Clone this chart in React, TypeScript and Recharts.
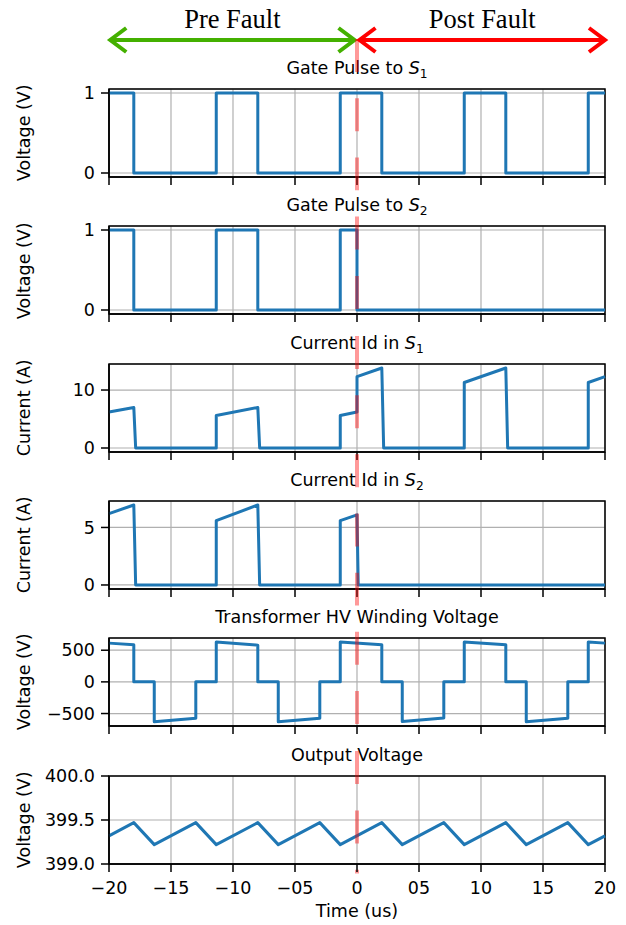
import React from "react";
import {
  CartesianGrid,
  Line,
  LineChart,
  ReferenceArea,
  ReferenceLine,
  XAxis,
  YAxis,
} from "recharts";

// shared time axis (us)
const xTicks = [-20, -15, -10, -5, 0, 5, 10, 15, 20];
const xTickLabels = ["−20", "−15", "−10", "−05", "0", "05", "10", "15", "20"];

const gateS1Time = [-20, -18, -18, -11.35, -11.35, -8, -8, -1.35, -1.35, 2, 2, 8.65, 8.65, 12, 12, 18.65, 18.65, 20];
const gateS1Value = [1, 1, 0, 0, 1, 1, 0, 0, 1, 1, 0, 0, 1, 1, 0, 0, 1, 1];

const gateS2Time = [-20, -18, -18, -11.35, -11.35, -8, -8, -1.35, -1.35, 0, 0, 20];
const gateS2Value = [1, 1, 0, 0, 1, 1, 0, 0, 1, 1, 0, 0];

const currentS1Time = [-20, -18, -17.85, -11.35, -11.35, -8, -7.85, -1.35, -1.35, 0, 0, 2, 2.15, 8.65, 8.65, 12, 12.15, 18.65, 18.65, 20];
const currentS1Value = [6.2, 7.0, 0, 0, 5.6, 7.0, 0, 0, 5.6, 6.2, 12.3, 13.8, 0, 0, 11.3, 13.8, 0, 0, 11.3, 12.3];

const currentS2Time = [-20, -18, -17.85, -11.35, -11.35, -8, -7.85, -1.35, -1.35, 0, 0.1, 20];
const currentS2Value = [6.2, 6.95, 0, 0, 5.6, 6.95, 0, 0, 5.6, 6.1, 0, 0];

const hvTime = [-20, -18, -18, -16.35, -16.35, -13, -13, -11.35, -11.35, -8, -8, -6.35, -6.35, -3, -3, -1.35, -1.35, 2, 2, 3.65, 3.65, 7, 7, 8.65, 8.65, 12, 12, 13.65, 13.65, 17, 17, 18.65, 18.65, 20];
const hvValue = [612, 585, 0, 0, -630, -575, 0, 0, 630, 580, 0, 0, -630, -575, 0, 0, 630, 585, 0, 0, -625, -570, 0, 0, 630, 585, 0, 0, -630, -575, 0, 0, 630, 612];

const outTime = [-20, -18, -16.35, -13, -11.35, -8, -6.35, -3, -1.35, 2, 3.65, 7, 8.65, 12, 13.65, 17, 18.65, 20];
const outValue = [399.32, 399.47, 399.22, 399.47, 399.22, 399.47, 399.22, 399.47, 399.22, 399.47, 399.22, 399.47, 399.22, 399.47, 399.22, 399.47, 399.22, 399.32];

const pulseTicks = [0, 1];
const pulseTickLabels = ["0", "1"];
const currentS1Ticks = [0, 10];
const currentS1TickLabels = ["0", "10"];
const currentS2Ticks = [0, 5];
const currentS2TickLabels = ["0", "5"];
const hvTicks = [-500, 0, 500];
const hvTickLabels = ["−500", "0", "500"];
const outTicks = [399, 399.5, 400];
const outTickLabels = ["399.0", "399.5", "400.0"];

const FONT = "'DejaVu Sans', sans-serif";
const FS = 17.5;
const BLUE = "#1f77b4";
const W = 626;
const PLOT_LEFT = 109;
const PLOT_RIGHT = 605;
const FRAME_TOP0 = 89;
const PITCH = 137.3;
const FRAME_H = 88;
const DASH_START = 39;
const DASH_END = 873;
const DASH_PERIOD = 59.3;

const Sub = ({ children }: { children: React.ReactNode }) => (
  <span style={{ fontSize: FS * 0.7, verticalAlign: -4 }}>{children}</span>
);

type PanelCfg = {
  title: React.ReactNode;
  ylabel: string;
  time: number[];
  value: number[];
  domain: [number, number];
  ticks: number[];
  tickLabels: string[];
};

const panels: PanelCfg[] = [
  {
    title: <>Gate Pulse to <i>S</i><Sub>1</Sub></>,
    ylabel: "Voltage (V)",
    time: gateS1Time,
    value: gateS1Value,
    domain: [-0.05, 1.05],
    ticks: pulseTicks,
    tickLabels: pulseTickLabels,
  },
  {
    title: <>Gate Pulse to <i>S</i><Sub>2</Sub></>,
    ylabel: "Voltage (V)",
    time: gateS2Time,
    value: gateS2Value,
    domain: [-0.05, 1.05],
    ticks: pulseTicks,
    tickLabels: pulseTickLabels,
  },
  {
    title: <>Current Id in <i>S</i><Sub>1</Sub></>,
    ylabel: "Current (A)",
    time: currentS1Time,
    value: currentS1Value,
    domain: [-0.69, 14.49],
    ticks: currentS1Ticks,
    tickLabels: currentS1TickLabels,
  },
  {
    title: <>Current Id in <i>S</i><Sub>2</Sub></>,
    ylabel: "Current (A)",
    time: currentS2Time,
    value: currentS2Value,
    domain: [-0.35, 7.3],
    ticks: currentS2Ticks,
    tickLabels: currentS2TickLabels,
  },
  {
    title: "Transformer HV Winding Voltage",
    ylabel: "Voltage (V)",
    time: hvTime,
    value: hvValue,
    domain: [-697, 693],
    ticks: hvTicks,
    tickLabels: hvTickLabels,
  },
  {
    title: "Output Voltage",
    ylabel: "Voltage (V)",
    time: outTime,
    value: outValue,
    domain: [399, 400],
    ticks: outTicks,
    tickLabels: outTickLabels,
  },
];

// double headed arrow drawn above the first panel
const arrowShape = (color: string, text: string) => (p: any) => {
  const y = 40;
  const xa = p.x1;
  const xb = p.x2;
  const hl = 16;
  const hw = 12;
  return (
    <g>
      <line x1={xa} x2={xb} y1={y} y2={y} stroke={color} strokeWidth={4} />
      <polyline points={`${xa + hl},${y - hw} ${xa},${y} ${xa + hl},${y + hw}`} fill="none" stroke={color} strokeWidth={4} />
      <polyline points={`${xb - hl},${y - hw} ${xb},${y} ${xb - hl},${y + hw}`} fill="none" stroke={color} strokeWidth={4} />
      <text x={(xa + xb) / 2} y={28} textAnchor="middle" fontFamily="'Liberation Serif', serif" fontSize={26.5} fill="#000">
        {text}
      </text>
    </g>
  );
};

function Panel({ cfg, index }: { cfg: PanelCfg; index: number }) {
  const last = index === panels.length - 1;
  const frameTop = FRAME_TOP0 + index * PITCH;
  const svgTop = index === 0 ? 0 : frameTop - 50;
  const mt = frameTop - svgTop;
  const axisH = last ? 40 : 12;
  const height = mt + FRAME_H + axisH;
  const segStart = index === 0 ? DASH_START : svgTop;
  const segEnd = last ? DASH_END : FRAME_TOP0 + (index + 1) * PITCH - 50;
  const data = cfg.time.map((t, k) => ({ t, v: cfg.value[k] }));

  const faultShape = (p: any) => (
    <line
      x1={p.x1}
      x2={p.x1}
      y1={segStart - svgTop}
      y2={segEnd - svgTop}
      stroke="#ff0000"
      strokeOpacity={0.4}
      strokeWidth={4}
      strokeDasharray="33 26.3"
      strokeDashoffset={(segStart - DASH_START) % DASH_PERIOD}
    />
  );

  return (
    <div style={{ position: "absolute", left: 0, top: svgTop }}>
      <LineChart width={W} height={height} data={data} margin={{ top: mt, right: W - PLOT_RIGHT, bottom: 0, left: 0 }}>
        <CartesianGrid stroke="#b0b0b0" strokeWidth={1.2} />
        <XAxis
          dataKey="t"
          type="number"
          domain={[-20, 20]}
          ticks={xTicks}
          interval={0}
          height={axisH}
          tick={{ fontSize: FS, fill: "#000", fontFamily: FONT }}
          tickFormatter={(v: number) => (last ? xTickLabels[xTicks.indexOf(v)] : "")}
          tickSize={8}
          tickMargin={10}
          tickLine={{ stroke: "#000", strokeWidth: 1.5 }}
          axisLine={{ stroke: "#000", strokeWidth: 1.5 }}
        />
        <YAxis
          type="number"
          domain={cfg.domain}
          ticks={cfg.ticks}
          interval={0}
          width={PLOT_LEFT}
          tick={{ fontSize: FS, fill: "#000", fontFamily: FONT }}
          tickFormatter={(v: number) => cfg.tickLabels[cfg.ticks.indexOf(v)]}
          tickSize={8}
          tickMargin={6}
          tickLine={{ stroke: "#000", strokeWidth: 1.5 }}
          axisLine={{ stroke: "#000", strokeWidth: 1.5 }}
        />
        <Line
          dataKey="v"
          type="linear"
          stroke={BLUE}
          strokeWidth={3}
          strokeLinejoin="round"
          dot={false}
          activeDot={false}
          isAnimationActive={false}
        />
        <ReferenceArea
          x1={-20}
          x2={20}
          y1={cfg.domain[0]}
          y2={cfg.domain[1]}
          fill="none"
          fillOpacity={0}
          stroke="#000"
          strokeWidth={1.5}
          ifOverflow="visible"
        />
        {index === 0 && (
          <ReferenceLine
            segment={[{ x: -19.9, y: 1 }, { x: -0.2, y: 1 }]}
            ifOverflow="visible"
            shape={arrowShape("#44b000", "Pre Fault")}
          />
        )}
        {index === 0 && (
          <ReferenceLine
            segment={[{ x: 0.2, y: 1 }, { x: 20, y: 1 }]}
            ifOverflow="visible"
            shape={arrowShape("#ff0000", "Post Fault")}
          />
        )}
        <ReferenceLine x={0} ifOverflow="visible" shape={faultShape} />
      </LineChart>
    </div>
  );
}

export default function App() {
  return (
    <div
      style={{
        position: "absolute",
        left: 0,
        top: 0,
        width: W,
        height: 925,
        overflow: "hidden",
        background: "#fff",
        fontFamily: FONT,
        color: "#000",
      }}
    >
      {panels.map((cfg, i) => {
        const frameTop = FRAME_TOP0 + i * PITCH;
        return (
          <React.Fragment key={`lbl-${i}`}>
            <div
              style={{
                position: "absolute",
                left: PLOT_LEFT,
                width: PLOT_RIGHT - PLOT_LEFT,
                top: frameTop - 14 - FS * 0.85,
                fontSize: FS,
                lineHeight: `${FS}px`,
                textAlign: "center",
                whiteSpace: "nowrap",
              }}
            >
              {cfg.title}
            </div>
            <div
              style={{
                position: "absolute",
                left: 24.5 - 70,
                width: 140,
                top: frameTop + FRAME_H / 2 - FS / 2,
                fontSize: FS,
                lineHeight: `${FS}px`,
                textAlign: "center",
                whiteSpace: "nowrap",
                transform: "rotate(-90deg)",
              }}
            >
              {cfg.ylabel}
            </div>
          </React.Fragment>
        );
      })}
      <div
        style={{
          position: "absolute",
          left: PLOT_LEFT,
          width: PLOT_RIGHT - PLOT_LEFT,
          top: 903,
          fontSize: FS,
          lineHeight: `${FS}px`,
          textAlign: "center",
        }}
      >
        Time (us)
      </div>
      {panels.map((cfg, i) => (
        <Panel key={`panel-${i}`} cfg={cfg} index={i} />
      ))}
    </div>
  );
}
